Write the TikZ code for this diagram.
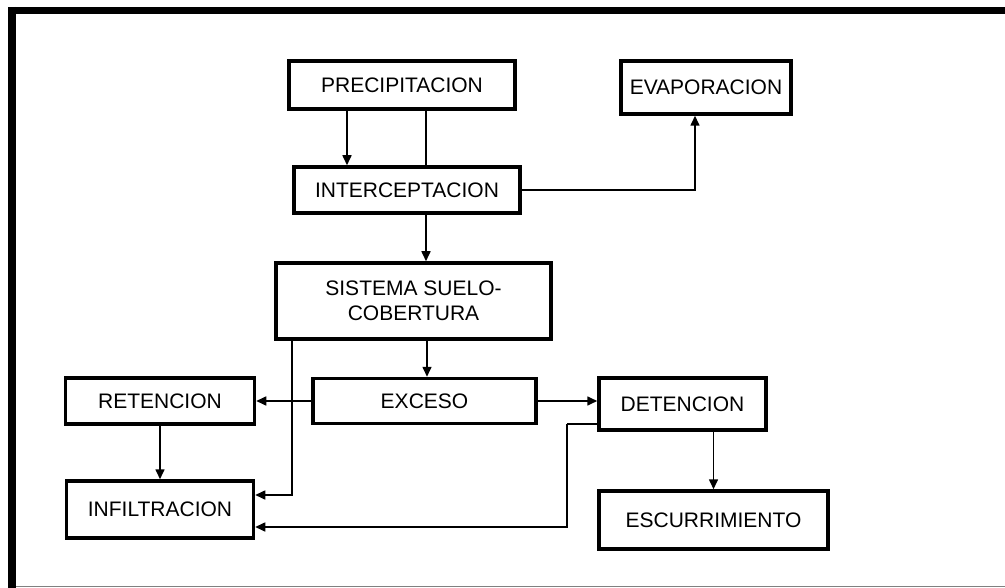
\documentclass[tikz,border=0pt]{standalone}
\usepackage{fontspec}
\setmainfont{Liberation Sans}
\usetikzlibrary{arrows.meta}

\begin{document}
\begin{tikzpicture}[x=1pt,y=-1pt]

          \tikzstyle{box} = [draw=black, line width=3.5pt, inner sep=0pt, align=center,
                             font=\fontsize{21}{25}\selectfont];
          \tikzstyle{flow} = [line width=1.6pt, -{Triangle[length=10pt,width=9pt]}];
          \tikzstyle{plain} = [line width=1.6pt];

          \useasboundingbox (0,0) rectangle (1005,588);

          % marco
          \draw[line width=7pt] (12,10.5) -- (1005,10.5);
          \draw[line width=8pt] (12,7) -- (12,588);
          \draw[gray, line width=1pt] (16,586) -- (1005,586);

          \node[box, minimum width=226pt, minimum height=48pt] (precip) at (402,85) {PRECIPITACION};
          \node[box, minimum width=226pt, minimum height=46pt] (inter) at (407,190) {INTERCEPTACION};
          \node[box, minimum width=170pt, minimum height=53pt] (evap) at (706,87.5) {EVAPORACION};
          \node[box, minimum width=275pt, minimum height=76pt] (sistema) at (413.5,301) {SISTEMA SUELO-\\COBERTURA};
          \node[box, minimum width=223pt, minimum height=45pt] (exceso) at (424.5,401) {EXCESO};
          \node[box, minimum width=189pt, minimum height=46pt] (retencion) at (160,401) {RETENCION};
          \node[box, minimum width=187pt, minimum height=57pt] (infil) at (160,509.5) {INFILTRACION};
          \node[box, minimum width=167pt, minimum height=52pt] (detencion) at (682.5,404) {DETENCION};
          \node[box, minimum width=229pt, minimum height=58pt] (escurr) at (713.5,520) {ESCURRIMIENTO};

          \coordinate (dbend) at (567,424);

          \draw[flow] ([xshift=-55pt]precip.south) -- ([xshift=-60pt]inter.north);
          \draw[plain] ([xshift=24pt]precip.south) -- ([xshift=19pt]inter.north);
          \draw[flow] (inter.east) -| ([xshift=-11pt]evap.south);
          \draw[flow] ([xshift=19pt]inter.south) -- ([xshift=12.5pt]sistema.north);
          \draw[flow] ([xshift=13.5pt]sistema.south) -- ([xshift=2.5pt]exceso.north);
          \draw[flow] (exceso.west) -- (retencion.east);
          \draw[flow] (exceso.east) -- (detencion.west |- exceso.east);
          \draw[flow] ([xshift=-121.5pt]sistema.south) |- ([yshift=14.5pt]infil.east);
          \draw[flow] (retencion.south) -- (infil.north);
          \draw[plain] ([yshift=-20pt]detencion.west) -- (dbend);
          \draw[flow] (dbend) |- ([yshift=-17.5pt]infil.east);
          \draw[flow] (escurr.north |- detencion.south) -- (escurr.north);
        \end{tikzpicture}
\end{document}
